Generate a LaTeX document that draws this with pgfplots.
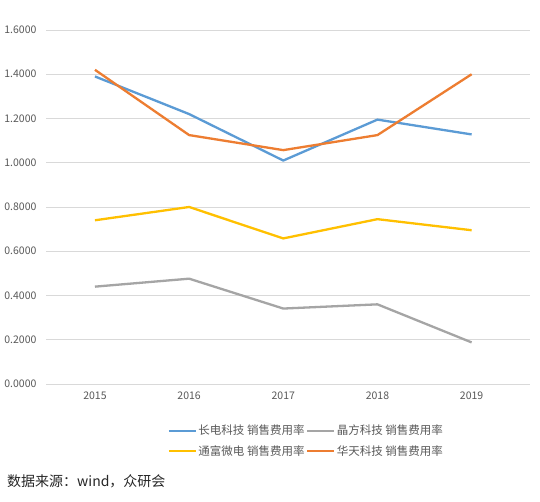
\documentclass[border=0pt]{standalone}
\usepackage{fontspec}
\setmainfont{Noto Sans CJK SC}
\usepackage{pgfplots}
\pgfplotsset{compat=1.18}
\definecolor{cblue}{HTML}{5B9BD5}
\definecolor{cgray}{HTML}{A5A5A5}
\definecolor{cyellow}{HTML}{FFC000}
\definecolor{corange}{HTML}{ED7D31}
\definecolor{ctext}{HTML}{595959}
\definecolor{cgrid}{HTML}{D9D9D9}
\begin{document}
\begin{tikzpicture}[x=1pt,y=1pt]
\path[fill=white] (0,0) rectangle (540,502);
\begin{axis}[
  at={(46pt,118pt)}, anchor=south west,
  scale only axis, width=484pt, height=354pt,
  xmin=-0.52, xmax=4.62, ymin=0, ymax=1.6,
  xtick={0,1,2,3,4}, xticklabels={2015,2016,2017,2018,2019},
  ytick={0,0.2,0.4,0.6,0.8,1.0,1.2,1.4,1.6},
  yticklabel={\pgfmathprintnumber[fixed,fixed zerofill,precision=4]{\tick}},
  /pgf/number format/assume math mode=true,
  tick label style={font=\fontsize{10.5}{12}\selectfont, text=ctext},
  ymajorgrids, grid style={cgrid, line width=0.8pt},
  axis x line*=bottom, axis y line*=left,
  x axis line style={cgrid, line width=0.8pt, -},
  y axis line style={draw=none},
  major tick length=0pt,
  xticklabel style={yshift=-4pt},
  yticklabel style={xshift=-6pt},
  every axis plot/.append style={line width=2.3pt, line join=round, mark=none},
  legend columns=2,
  legend style={draw=none, fill=none, at={(260pt,-57pt)}, anchor=center,
    font=\fontsize{11.5}{13}\selectfont, text=ctext,
    /tikz/every odd column/.append style={column sep=0pt},
    /tikz/every even column/.append style={column sep=0pt},
    nodes={inner xsep=1.5pt},
    row sep=5pt},
  legend image code/.code={\draw[#1, line width=2.3pt] (0pt,0pt) -- (27pt,0pt);},
]
\addplot[cblue] coordinates {(0,1.39) (1,1.22) (2,1.01) (3,1.195) (4,1.128)};
\addlegendentry{长电科技 销售费用率}
\addplot[cgray] coordinates {(0,0.44) (1,0.476) (2,0.341) (3,0.36) (4,0.188)};
\addlegendentry{晶方科技 销售费用率}
\addplot[cyellow] coordinates {(0,0.74) (1,0.80) (2,0.658) (3,0.745) (4,0.695)};
\addlegendentry{通富微电 销售费用率}
\addplot[corange] coordinates {(0,1.42) (1,1.125) (2,1.057) (3,1.125) (4,1.40)};
\addlegendentry{华天科技 销售费用率}
\end{axis}
\node[anchor=west, font=\fontsize{14}{16}\selectfont, text=black!85, inner sep=0pt] at (7,21) {数据来源：wind，众研会};
\end{tikzpicture}
\end{document}
